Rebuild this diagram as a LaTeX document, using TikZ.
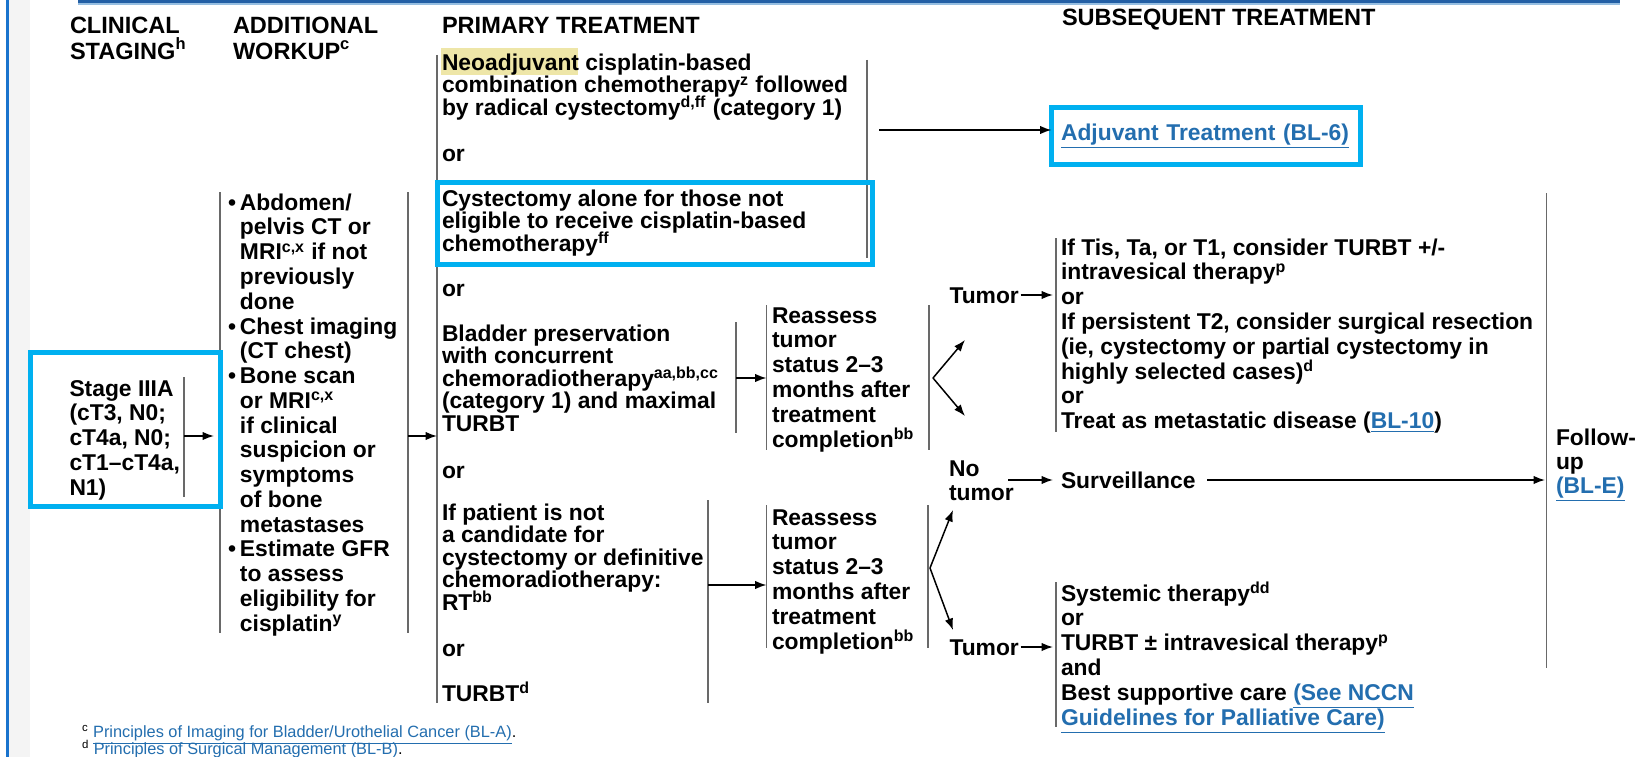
\documentclass[tikz,border=0pt]{standalone}
\usepackage{fontspec}
\setmainfont{Liberation Sans}
\usetikzlibrary{arrows.meta}
\definecolor{cyanbox}{RGB}{0,176,240}
\definecolor{linkblue}{RGB}{35,110,175}
\definecolor{bargrey}{RGB}{105,105,105}
\definecolor{topdark}{RGB}{35,95,165}
\definecolor{toplight}{RGB}{150,190,225}
\definecolor{leftblue}{RGB}{25,115,205}
\definecolor{strip}{RGB}{244,244,244}
\definecolor{hilite}{RGB}{238,230,168}
\newcommand\bodyf[1]{\fontsize{13}{#1}\selectfont\bfseries\lineskiplimit=-30pt\lineskip=0pt\relax}
\newcommand\headf{\fontsize{13.4}{14.8}\selectfont\bfseries\lineskiplimit=-30pt\lineskip=0pt\relax}
\newcommand\footf{\fontsize{9.3}{11}\selectfont\mdseries}
\newcommand\lnk[1]{\textcolor{linkblue}{\underline{#1}}}
\newcommand\st{\rule{0pt}{12pt}}
\newcommand\fst{\rule{0pt}{9pt}}
\newcommand\sups[1]{\textsuperscript{#1}}
\newcommand\bul{\makebox[0.24cm][l]{•}}
\newcommand\ind{\hspace*{0.24cm}}
\begin{document}
\begin{tikzpicture}[x=0.02cm,y=-0.02cm,
  txt/.style={anchor=north west,inner sep=0pt,outer sep=0pt,align=left,yshift=7.35pt,font=\bodyf{14.1pt}},
  tight/.style={txt,font=\bodyf{12.8pt}},
  head/.style={txt,font=\headf},
  foot/.style={anchor=north west,inner sep=0pt,outer sep=0pt,align=left,yshift=5.7pt,font=\footf},
  bar/.style={draw=bargrey,line width=1.1pt},
  arr/.style={-{Latex[length=2.3mm,width=1.7mm]},line width=0.85pt,black},
  cyb/.style={draw=cyanbox,line width=0.1cm}]
\useasboundingbox (0,0) rectangle (1640,757);
% page decoration
\fill[white] (0,0) rectangle (1640,757);
\fill[strip] (8.5,0) rectangle (30,757);
\fill[leftblue] (5.5,0) rectangle (8.5,757);
\fill[topdark] (78,0) rectangle (1620,3);
\fill[toplight] (78,3) rectangle (1620,5.5);

% headings
\node[head] (hclin) at (70,25) {\st CLINICAL\\STAGING\sups{h}};
\node[head] (hwork) at (233,25) {\st ADDITIONAL\\WORKUP\sups{c}};
\node[head] (hprim) at (442,25) {\st PRIMARY TREATMENT};
\node[head] (hsub) at (1062,17) {\st SUBSEQUENT TREATMENT};

% ---------- bars (coordinates) ----------
\coordinate (stT) at (184,377); \coordinate (stB) at (184,497);
\coordinate (wlT) at (220,192); \coordinate (wlB) at (220,633);
\coordinate (wrT) at (408,192); \coordinate (wrB) at (408,633);
\coordinate (prT) at (437,55);  \coordinate (prB) at (437,703);
\coordinate (neT) at (867,60);  \coordinate (neB) at (867,258);
\coordinate (blT) at (736,322); \coordinate (blB) at (736,433);
\coordinate (rtT) at (708,500); \coordinate (rtB) at (708,703);
\coordinate (r1lT) at (766.5,305); \coordinate (r1lB) at (766.5,450);
\coordinate (r1rT) at (929,305);   \coordinate (r1rB) at (929,450);
\coordinate (r2lT) at (766.5,505); \coordinate (r2lB) at (766.5,648);
\coordinate (r2rT) at (928,505);   \coordinate (r2rB) at (928,648);
\coordinate (s1T) at (1056,238); \coordinate (s1B) at (1056,432);
\coordinate (s3T) at (1056,582); \coordinate (s3B) at (1056,727);
\coordinate (fuT) at (1546.5,193); \coordinate (fuB) at (1546.5,668);
\foreach \a/\b in {stT/stB,wlT/wlB,wrT/wrB,prT/prB,neT/neB,blT/blB,rtT/rtB,
  r1lT/r1lB,r1rT/r1rB,r2lT/r2lB,r2rT/r2rB,s1T/s1B,s3T/s3B,fuT/fuB}
  \draw[bar] (\a) -- (\b);

% highlight behind Neoadjuvant
\fill[hilite] (441,48) rectangle (578,75);

% ---------- texts ----------
\node[txt] (stage) at (69.5,388) {\st Stage IIIA\\(cT3, N0;\\cT4a, N0;\\cT1–cT4a,\\N1)};
\node[txt] (workup) at (228,202) {\st\bul Abdomen/\\\ind pelvis CT or\\\ind MRI\sups{c,x} if not\\\ind previously\\\ind done\\
 \bul Chest imaging\\\ind (CT chest)\\\bul Bone scan\\\ind or MRI\sups{c,x}\\\ind if clinical\\\ind suspicion or\\\ind symptoms\\\ind of bone\\\ind metastases\\
 \bul Estimate GFR\\\ind to assess\\\ind eligibility for\\\ind cisplatin\sups{y}};
\node[tight] (neo) at (442,62) {\st Neoadjuvant cisplatin-based\\combination chemotherapy\sups{z} followed\\by radical cystectomy\sups{d,ff} (category 1)};
\node[txt] (or1) at (442,153) {\st or};
\node[tight] (cyst) at (442,198) {\st Cystectomy alone for those not\\eligible to receive cisplatin-based\\chemotherapy\sups{ff}};
\node[txt] (or2) at (442,288) {\st or};
\node[tight] (blad) at (442,333) {\st Bladder preservation\\with concurrent\\chemoradiotherapy\sups{aa,bb,cc}\\(category 1) and maximal\\TURBT};
\node[txt] (or3) at (442,470) {\st or};
\node[tight] (rt) at (442,512) {\st If patient is not\\a candidate for\\cystectomy or definitive\\chemoradiotherapy:\\RT\sups{bb}};
\node[txt] (or4) at (442,648) {\st or};
\node[txt] (turbt) at (442,693) {\st TURBT\sups{d}};
\node[txt] (re1) at (772,315) {\st Reassess\\tumor\\status 2–3\\months after\\treatment\\completion\sups{bb}};
\node[txt] (re2) at (772,517) {\st Reassess\\tumor\\status 2–3\\months after\\treatment\\completion\sups{bb}};
\node[txt] (tum1) at (949.5,295) {\st Tumor};
\node[txt] (notum) at (949,468) {\st No\\tumor};
\node[txt] (tum2) at (949.5,647) {\st Tumor};
\node[txt] (sub1) at (1061,247) {\st If Tis, Ta, or T1, consider TURBT +/-\\intravesical therapy\sups{p}\\or\\If persistent T2, consider surgical resection\\(ie, cystectomy or partial cystectomy in\\highly selected cases)\sups{d}\\or\\Treat as metastatic disease (\lnk{BL-10})};
\node[txt] (surv) at (1061,480) {\st Surveillance};
\node[txt] (sub3) at (1061,593) {\st Systemic therapy\sups{dd}\\or\\TURBT ± intravesical therapy\sups{p}\\and\\Best supportive care \lnk{(See NCCN}\\\lnk{Guidelines for Palliative Care)}};
\node[tight,font=\bodyf{13.7pt}] (fu) at (1556,437) {\st Follow-\\up\\\lnk{(BL-E)}};
\node[cyb,anchor=north west,inner xsep=0.19cm,inner ysep=0pt,outer sep=0pt,
  minimum width=6.18cm,minimum height=1.14cm,text width=5.8cm,align=left,
  font=\bodyf{14.1pt}] (adj) at (1051.5,107.5) {\lnk{Adjuvant Treatment (BL-6)}};

% cyan boxes
\draw[cyb] (30.5,352.5) rectangle (220.5,506.5);
\draw[cyb] (437.5,182.5) rectangle (872.5,264.5);

% footnotes
\node[foot] (fc) at (82,732) {\fst\sups{c} \lnk{Principles of Imaging for Bladder/Urothelial Cancer (BL-A)}.};
\node[foot] (fd) at (82,749) {\fst\sups{d} \lnk{Principles of Surgical Management (BL-B)}.};

% ---------- connectors ----------
\coordinate (stA) at (184,436);  \coordinate (wuIn) at (214,436);
\coordinate (wuA) at (408,436);  \coordinate (prIn) at (437,436);
\coordinate (neA) at (879,130);
\coordinate (blA) at (736,378);  \coordinate (r1In) at (766.5,378);
\coordinate (rtA) at (708,585);  \coordinate (r2In) at (766.5,585);
\coordinate (b1) at (933,378); \coordinate (b1u) at (965,340); \coordinate (b1d) at (965,416);
\coordinate (b2) at (930,568); \coordinate (b2u) at (953,510); \coordinate (b2d) at (953,630);
\coordinate (s1In) at (1053,295);
\coordinate (ntA) at (1008,480); \coordinate (svIn) at (1053,480);
\coordinate (svA) at (1207,480); \coordinate (fuIn) at (1545,480);
\coordinate (s3In) at (1053,647);

\draw[arr] (stA) -- (wuIn);
\draw[arr] (wuA) -- (prIn);
\draw[arr] (neA) -- (neA -| adj.west);
\draw[arr] (blA) -- (r1In);
\draw[arr] (rtA) -- (r2In);
\draw[arr] (b1) -- (b1d);
\draw[arr] (b1) -- (b1u);
\draw[arr] (b2) -- (b2d);
\draw[arr] (b2) -- (b2u);
\draw[arr] ([xshift=1pt]tum1.east |- s1In) -- (s1In);
\draw[arr] (ntA) -- (svIn);
\draw[arr] (svA) -- (fuIn);
\draw[arr] ([xshift=1pt]tum2.east |- s3In) -- (s3In);
\end{tikzpicture}
\end{document}
